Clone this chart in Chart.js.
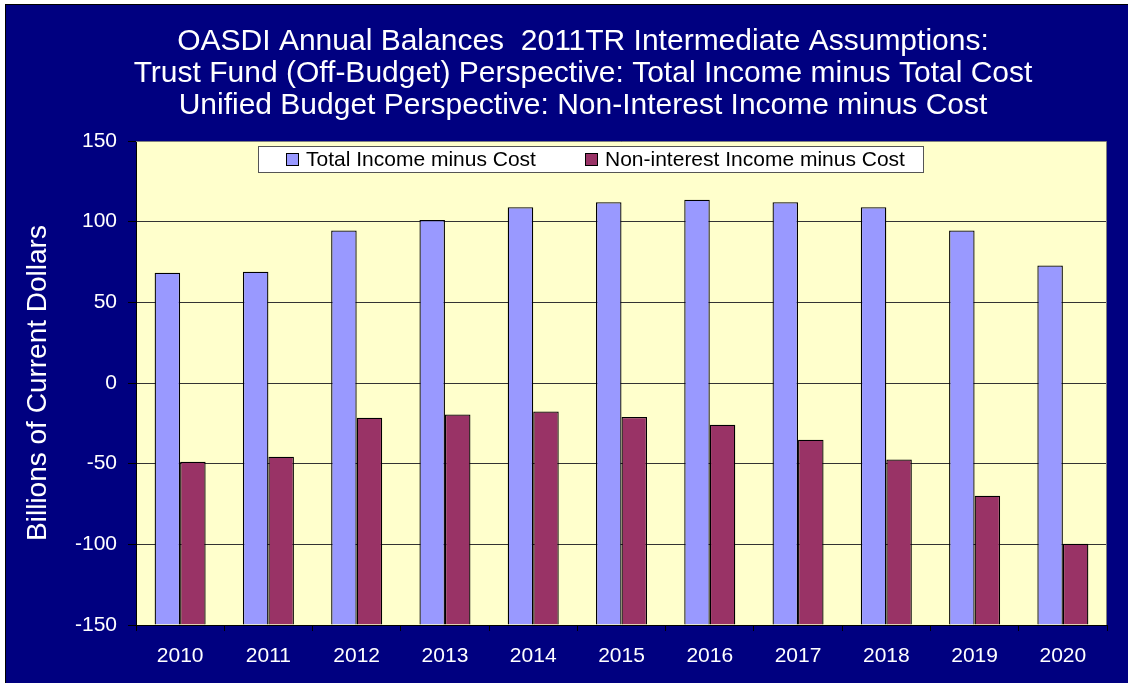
<!DOCTYPE html>
<html>
<head>
<meta charset="utf-8">
<script src="https://cdn.jsdelivr.net/npm/chart.js@4/dist/chart.umd.min.js"></script>
<style>
  html, body { margin: 0; padding: 0; background: #ffffff; overflow: hidden; width: 1128px; height: 683px; }
  #frame { position: absolute; left: 5px; top: 4px; width: 1122px; height: 678px; background: #000080;
           border-top: 1px solid #000; border-left: 1px solid #000; overflow: hidden; }
  #c { position: absolute; left: 0; top: 0; }
</style>
</head>
<body>
<div id="frame"><canvas id="c" width="1154" height="678"></canvas></div>
<script>
const years = ['2010','2011','2012','2013','2014','2015','2016','2017','2018','2019','2020'];
const totalIncomeMinusCost = [68.4, 69.0, 94.6, 101.0, 109.0, 112.1, 113.6, 112.1, 109.0, 94.6, 72.9];
const nonInterestIncomeMinusCost = [-48.8, -45.7, -21.5, -19.5, -17.6, -21.1, -25.9, -35.2, -47.4, -69.9, -99.6];
const seriesLabels = ['Total Income minus Cost', 'Non-interest Income minus Cost'];
const titleLines = [
  'OASDI Annual Balances  2011TR Intermediate Assumptions:',
  'Trust Fund (Off-Budget) Perspective: Total Income minus Total Cost',
  'Unified Budget Perspective: Non-Interest Income minus Cost'
];
const yAxisTitle = 'Billions of Current Dollars';
const Y_MIN = -150, Y_MAX = 150, Y_STEP = 50;

const FONT = "'Liberation Sans', Arial, sans-serif";

const plotBg = {
  id: 'plotBg',
  beforeDraw(chart) {
    const { ctx, chartArea: a } = chart;
    ctx.save();
    ctx.fillStyle = '#FFFFCC';
    ctx.fillRect(a.left, a.top, a.right - a.left, a.bottom - a.top);
    ctx.restore();
  },
  afterDraw(chart) {
    const { ctx, chartArea: a } = chart;
    ctx.save();
    ctx.strokeStyle = '#808080';
    ctx.lineWidth = 1;
    ctx.beginPath();
    ctx.moveTo(a.left, a.top + 0.5);
    ctx.lineTo(a.right - 0.5, a.top + 0.5);
    ctx.lineTo(a.right - 0.5, a.bottom);
    ctx.stroke();
    ctx.restore();
  }
};

const boxLegend = {
  id: 'boxLegend',
  afterDraw(chart) {
    const { ctx } = chart;
    const x0 = 252.5, y0 = 141.5, w = 665, h = 26;
    ctx.save();
    ctx.fillStyle = '#ffffff';
    ctx.fillRect(x0, y0, w, h);
    ctx.strokeStyle = '#555555';
    ctx.lineWidth = 1;
    ctx.strokeRect(x0, y0, w, h);
    const items = [{ sx: 280, tx: 300 }, { sx: 579, tx: 599 }];
    const cy = y0 + h / 2;
    chart.data.datasets.forEach((ds, i) => {
      const it = items[i];
      ctx.fillStyle = ds.backgroundColor;
      ctx.fillRect(it.sx + 0.5, cy - 6, 12, 12);
      ctx.strokeStyle = '#000';
      ctx.strokeRect(it.sx + 0.5, cy - 6, 12, 12);
      ctx.fillStyle = '#000';
      ctx.font = '21px ' + FONT;
      ctx.textBaseline = 'middle';
      ctx.textAlign = 'left';
      ctx.fillText(ds.label, it.tx, cy + 1);
    });
    ctx.restore();
  }
};

new Chart(document.getElementById('c'), {
  type: 'bar',
  data: {
    labels: years,
    datasets: [
      { label: seriesLabels[0], data: totalIncomeMinusCost, backgroundColor: '#9999FF',
        borderColor: '#000000', borderWidth: 1.3, base: Y_MIN },
      { label: seriesLabels[1], data: nonInterestIncomeMinusCost, backgroundColor: '#993366',
        borderColor: '#000000', borderWidth: 1.3, base: Y_MIN }
    ]
  },
  options: {
    responsive: false,
    animation: false,
    devicePixelRatio: 1,
    categoryPercentage: 0.578,
    barPercentage: 1.0,
    layout: { padding: 0 },
    plugins: {
      legend: { display: false },
      tooltip: { enabled: false },
      title: {
        display: true,
        text: titleLines,
        color: '#ffffff',
        font: { family: FONT, size: 30, weight: 'normal', lineHeight: 32 / 30 },
        padding: { top: 21, bottom: 19 }
      }
    },
    scales: {
      x: {
        grid: { drawOnChartArea: false, offset: true, tickLength: 6, tickColor: '#000', color: '#000' },
        border: { color: '#000', width: 1 },
        ticks: { color: '#ffffff', font: { family: FONT, size: 21 }, padding: 13, maxRotation: 0 },
        afterFit(s) { s.height = 58; }
      },
      y: {
        min: Y_MIN, max: Y_MAX,
        ticks: { stepSize: Y_STEP, color: '#ffffff', font: { family: FONT, size: 21 }, padding: 11 },
        grid: { color: '#333333', tickColor: '#000', tickLength: 8 },
        border: { color: '#000', width: 1 },
        title: { display: true, text: yAxisTitle, color: '#ffffff',
                 font: { family: FONT, size: 28 }, padding: { top: 15, bottom: 0 } },
        afterFit(s) { s.width = 130; }
      },
      spacer: {
        type: 'linear',
        position: 'right',
        display: true,
        ticks: { display: false },
        grid: { display: false, drawTicks: false },
        border: { display: false },
        afterFit(s) { s.width = 53; }
      }
    }
  },
  plugins: [plotBg, boxLegend]
});
</script>
</body>
</html>
